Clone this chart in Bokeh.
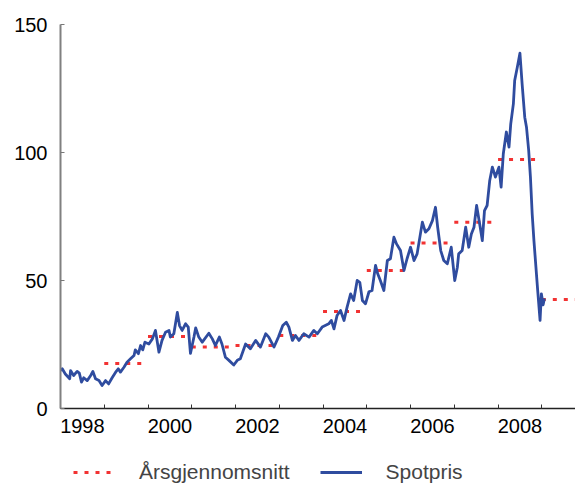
from bokeh.plotting import figure
from bokeh.layouts import column
from bokeh.models import FixedTicker, Legend, LegendItem, Range1d
from bokeh.embed import file_html
from bokeh.resources import INLINE

# Spot price (USD per barrel), decimal years
spot_years = [1998.00, 1998.04, 1998.11, 1998.21, 1998.23, 1998.30, 1998.38, 1998.43, 1998.48,
              1998.53, 1998.61, 1998.69, 1998.74, 1998.80, 1998.88, 1998.95, 1999.03, 1999.10,
              1999.18, 1999.26, 1999.32, 1999.37, 1999.45, 1999.52, 1999.60, 1999.68, 1999.71,
              1999.78, 1999.83, 1999.88, 1999.93, 2000.02, 2000.10, 2000.17, 2000.25, 2000.32,
              2000.40, 2000.48, 2000.51, 2000.59, 2000.67, 2000.72, 2000.78, 2000.86, 2000.92,
              2000.97, 2001.05, 2001.09, 2001.16, 2001.24, 2001.39, 2001.47, 2001.54, 2001.63,
              2001.69, 2001.77, 2001.85, 2001.96, 2002.04, 2002.11, 2002.23, 2002.34, 2002.46,
              2002.57, 2002.69, 2002.76, 2002.88, 2002.98, 2003.08, 2003.16, 2003.22, 2003.30,
              2003.37, 2003.45, 2003.56, 2003.68, 2003.79, 2003.87, 2003.98, 2004.05, 2004.13,
              2004.19, 2004.25, 2004.32, 2004.40, 2004.48, 2004.55, 2004.63, 2004.70, 2004.78,
              2004.84, 2004.90, 2004.97, 2005.05, 2005.12, 2005.20, 2005.25, 2005.31, 2005.39,
              2005.47, 2005.54, 2005.62, 2005.68, 2005.77, 2005.85, 2005.92, 2006.00, 2006.08,
              2006.15, 2006.27, 2006.34, 2006.42, 2006.50, 2006.57, 2006.62, 2006.69, 2006.76,
              2006.84, 2006.93, 2007.01, 2007.07, 2007.10, 2007.18, 2007.26, 2007.33, 2007.39,
              2007.45, 2007.51, 2007.58, 2007.64, 2007.69, 2007.75, 2007.81, 2007.87, 2007.94,
              2008.02, 2008.07, 2008.12, 2008.19, 2008.25, 2008.29, 2008.35, 2008.38, 2008.44,
              2008.50, 2008.55, 2008.61, 2008.65, 2008.70, 2008.74, 2008.78, 2008.82, 2008.86,
              2008.90, 2008.96, 2008.99, 2009.03, 2009.06]
spot_price = [14.8, 15.5, 13.5, 11.6, 14.8, 12.9, 14.5, 13.8, 10.3,
              12.0, 10.9, 12.9, 14.5, 11.6, 10.9, 9.0, 10.9, 9.6,
              12.0, 14.2, 15.5, 14.2, 16.1, 18.1, 19.4, 20.7, 22.9,
              21.4, 24.6, 22.9, 25.9, 25.2, 27.2, 30.5, 22.0, 26.6,
              29.8, 30.5, 27.9, 29.2, 37.5, 32.4, 30.5, 33.1, 31.8,
              21.5, 27.9, 31.5, 27.9, 25.9, 29.4, 27.2, 24.6, 27.9,
              25.2, 20.0, 18.8, 17.0, 18.8, 19.4, 25.2, 23.3, 26.6,
              24.0, 29.2, 27.9, 24.0, 27.9, 32.4, 33.7, 31.8, 26.6,
              28.5, 26.6, 29.2, 27.9, 30.5, 29.2, 31.8, 32.4, 33.1,
              34.4, 31.1, 36.3, 38.3, 34.4, 39.6, 44.8, 42.2, 50.0,
              49.3, 42.2, 40.9, 45.6, 46.1, 55.9, 52.6, 50.0, 46.1,
              57.8, 58.5, 66.9, 64.3, 61.7, 53.9, 58.5, 63.0, 57.8,
              60.4, 72.8, 68.9, 70.2, 73.4, 78.6, 70.8, 61.7, 57.8,
              56.5, 63.0, 50.0, 55.2, 60.4, 61.7, 70.8, 63.0, 68.2,
              70.8, 79.3, 72.1, 65.6, 77.3, 79.3, 89.1, 94.3, 90.4,
              94.3, 86.5, 99.5, 108.0, 102.1, 111.2, 119.0, 128.1, 133.3,
              138.8, 126.8, 113.8, 109.9, 100.8, 90.4, 76.0, 65.6, 56.5,
              47.4, 34.4, 44.8, 40.5, 43.0]

# Annual averages
avg_years = [1999, 2000, 2001, 2002, 2003, 2004, 2005, 2006, 2007, 2008, 2009]
avg_price = [17.6, 28.1, 24.0, 24.6, 28.5, 37.9, 53.9, 64.6, 72.8, 97.3, 42.6]

label_years = [1998, 2000, 2002, 2004, 2006, 2008]
y_ticks = [0, 50, 100, 150]

FONT = "Liberation Sans"
BLUE = "#2f4c9f"
RED = "#f23232"
RED_DASH = "4 7"
NAN = float("nan")

p = figure(width=575, height=448, output_backend="svg", toolbar_location=None,
           x_range=Range1d(1998, 2009.77), y_range=Range1d(0, 150),
           min_border_left=60, min_border_top=24, min_border_right=0,
           min_border_bottom=40)
p.outline_line_color = None
p.grid.visible = False
p.background_fill_color = "white"

p.segment(x0=avg_years, x1=[y + 1 for y in avg_years], y0=avg_price, y1=avg_price,
          line_color=RED, line_width=3, line_dash=RED_DASH)
p.line(spot_years, spot_price, line_color=BLUE, line_width=2.8, line_join="round")

# x axis: ticks at year boundaries, labels centred mid-year
xa = p.xaxis[0]
xa.ticker = FixedTicker(ticks=[y + 0.5 for y in label_years],
                        minor_ticks=list(range(1998, 2010)))
xa.major_label_overrides = {y + 0.5: str(y) for y in label_years}
xa.major_tick_in = 0
xa.major_tick_out = 0
xa.minor_tick_in = 4
xa.minor_tick_out = 0
xa.minor_tick_line_color = "#333333"
xa.minor_tick_line_width = 1
xa.axis_line_color = "#222222"
xa.axis_line_width = 1.5
xa.major_label_standoff = 10
xa.major_label_text_font = FONT
xa.major_label_text_font_size = "20px"
xa.major_label_text_color = "black"

ya = p.yaxis[0]
ya.ticker = FixedTicker(ticks=y_ticks)
ya.major_tick_in = 4
ya.major_tick_out = 0
ya.minor_tick_in = 0
ya.minor_tick_out = 0
ya.major_tick_line_color = "#777777"
ya.axis_line_color = "#808080"
ya.axis_line_width = 2
ya.major_label_standoff = 13
ya.major_label_text_font = FONT
ya.major_label_text_font_size = "20px"
ya.major_label_text_color = "black"

# Legend strip below the chart (proxy renderers carry the styles only)
lg = figure(width=575, height=36, output_backend="svg", toolbar_location=None,
            x_range=Range1d(0, 1), y_range=Range1d(0, 1),
            x_axis_type=None, y_axis_type=None,
            min_border_left=0, min_border_right=0, min_border_top=0, min_border_bottom=0)
lg.outline_line_color = None
lg.grid.visible = False
leg_avg = lg.line(x=[NAN, NAN], y=[NAN, NAN], line_color=RED, line_width=3, line_dash=RED_DASH)
leg_spot = lg.line(x=[NAN, NAN], y=[NAN, NAN], line_color=BLUE, line_width=2.8)

legend = Legend(items=[LegendItem(label="Årsgjennomsnitt", renderers=[leg_avg]),
                       LegendItem(label="Spotpris", renderers=[leg_spot])],
                orientation="horizontal", location=(13, 0),
                padding=0, margin=0, spacing=30, label_standoff=24,
                glyph_width=42, glyph_height=20, label_height=20,
                label_text_font=FONT, label_text_font_size="21px",
                border_line_color=None, background_fill_alpha=0)
lg.add_layout(legend, "center")

open("out.html", "w").write(file_html(column(p, lg, spacing=0), INLINE))
